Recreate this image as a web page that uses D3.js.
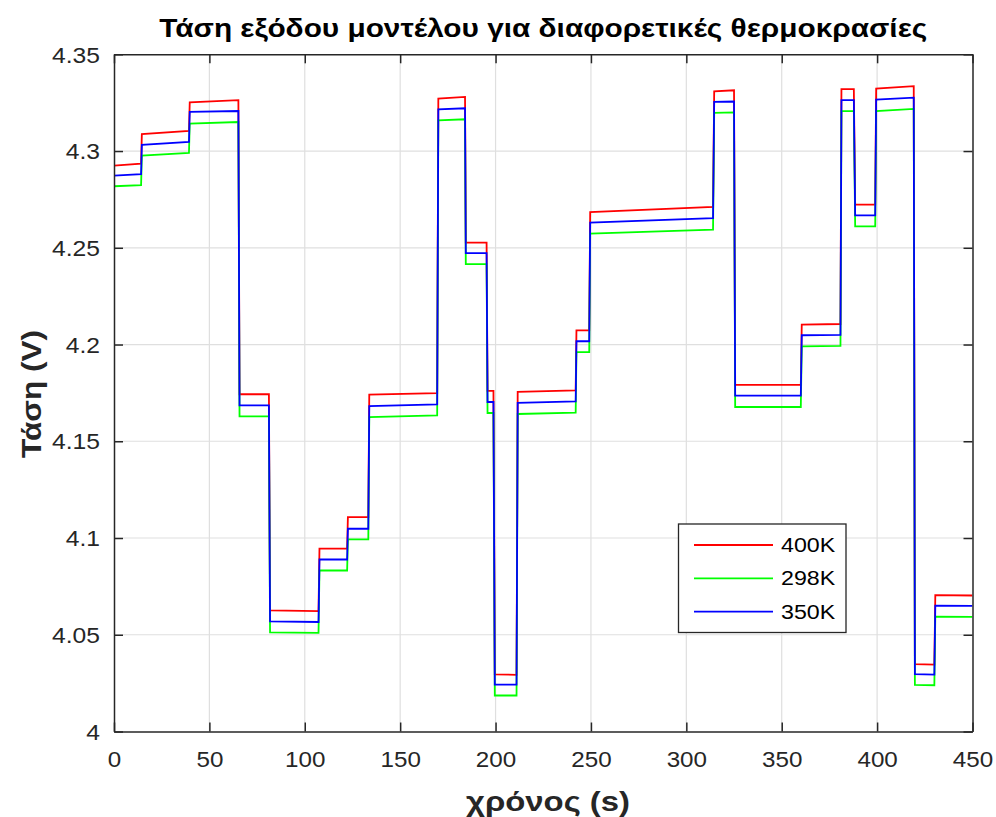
<!DOCTYPE html>
<html>
<head>
<meta charset="utf-8">
<script src="https://cdn.jsdelivr.net/npm/d3@7"></script>
<style>
  html, body { margin: 0; padding: 0; background: #ffffff; }
  svg { display: block; }
  text { font-family: "Liberation Sans", Arial, sans-serif; }
</style>
</head>
<body>
<svg id="chart" width="996" height="817"></svg>
<script>
// ---- Data ----
const segStart = [0, 14.6, 39.7, 65.8, 81.8, 107.7, 122.6, 133.8, 170.0, 184.4, 195.8, 199.6, 211.6, 242.4, 249.6, 314.6, 325.6, 360.5, 381.3, 388.5, 399.5, 419.8, 430.5];
const segEnd   = [14.2, 39.3, 65.2, 81.2, 107.2, 122.2, 133.3, 169.4, 184.0, 195.3, 198.9, 211.0, 242.0, 249.1, 314.0, 325.0, 360.0, 380.8, 387.8, 399.0, 419.2, 430.0, 450];

const v400Start = [4.2925, 4.3087, 4.3252, 4.1743, 4.0626, 4.0945, 4.1108, 4.1741, 4.3271, 4.2527, 4.1760, 4.0295, 4.1755, 4.2073, 4.2685, 4.3309, 4.1791, 4.2103, 4.3320, 4.2723, 4.3323, 4.0348, 4.0705];
const v400End   = [4.2935, 4.3104, 4.3263, 4.1743, 4.0622, 4.0945, 4.1108, 4.1749, 4.3280, 4.2527, 4.1760, 4.0293, 4.1763, 4.2073, 4.2711, 4.3314, 4.1791, 4.2106, 4.3320, 4.2723, 4.3335, 4.0346, 4.0703];

const v298Start = [4.2818, 4.2976, 4.3142, 4.1629, 4.0512, 4.0832, 4.0993, 4.1625, 4.3158, 4.2416, 4.1646, 4.0186, 4.1641, 4.1961, 4.2573, 4.3197, 4.1677, 4.1991, 4.3206, 4.2611, 4.3207, 4.0241, 4.0593];
const v298End   = [4.2824, 4.2990, 4.3150, 4.1629, 4.0510, 4.0832, 4.0993, 4.1634, 4.3164, 4.2416, 4.1646, 4.0186, 4.1648, 4.1961, 4.2594, 4.3200, 4.1677, 4.1993, 4.3206, 4.2611, 4.3218, 4.0239, 4.0592];

const v350Start = [4.2873, 4.3032, 4.3202, 4.1686, 4.0569, 4.0889, 4.1048, 4.1682, 4.3216, 4.2472, 4.1703, 4.0243, 4.1698, 4.2017, 4.2630, 4.3254, 4.1736, 4.2048, 4.3263, 4.2668, 4.3266, 4.0296, 4.0650];
const v350End   = [4.2880, 4.3047, 4.3207, 4.1686, 4.0566, 4.0889, 4.1048, 4.1691, 4.3221, 4.2472, 4.1703, 4.0242, 4.1706, 4.2017, 4.2653, 4.3256, 4.1736, 4.2050, 4.3263, 4.2668, 4.3276, 4.0294, 4.0649];

const seriesNames = ["400K", "298K", "350K"];
const seriesColors = ["#ff0000", "#00ff00", "#0000ff"];
const xTicks = [0, 50, 100, 150, 200, 250, 300, 350, 400, 450];
const yTicks = [4, 4.05, 4.1, 4.15, 4.2, 4.25, 4.3, 4.35];

const titleText = "Τάση εξόδου μοντέλου για διαφορετικές θερμοκρασίες";
const xLabel = "χρόνος (s)";
const yLabel = "Τάση (V)";

function buildPoints(starts, ends) {
  const pts = [];
  for (let i = 0; i < segStart.length; i++) {
    pts.push([segStart[i], starts[i]]);
    pts.push([segEnd[i], ends[i]]);
  }
  return pts;
}
const series = [
  { name: seriesNames[0], color: seriesColors[0], pts: buildPoints(v400Start, v400End) },
  { name: seriesNames[1], color: seriesColors[1], pts: buildPoints(v298Start, v298End) },
  { name: seriesNames[2], color: seriesColors[2], pts: buildPoints(v350Start, v350End) }
];

// widen text horizontally (reference glyphs are wider than Liberation Sans)
function widen(sel, k) {
  sel.each(function () {
    const len = this.getComputedTextLength();
    d3.select(this).attr("textLength", len * k).attr("lengthAdjust", "spacingAndGlyphs");
  });
}

// ---- Layout ----
const L = 114, R = 972.5, T = 54.3, B = 731.5;
const svg = d3.select("#chart");
const x = d3.scaleLinear().domain([0, 450]).range([L, R]);
const y = d3.scaleLinear().domain([4, 4.35]).range([B, T]);
const axisColor = "#262626";

// grid
const g = svg.append("g");
g.selectAll("line.gx").data(xTicks.slice(1, -1)).enter().append("line")
  .attr("x1", d => x(d)).attr("x2", d => x(d)).attr("y1", T).attr("y2", B)
  .attr("stroke", "#dfdfdf").attr("stroke-width", 1.2);
g.selectAll("line.gy").data(yTicks.slice(1, -1)).enter().append("line")
  .attr("x1", L).attr("x2", R).attr("y1", d => y(d)).attr("y2", d => y(d))
  .attr("stroke", "#dfdfdf").attr("stroke-width", 1.2);

// lines
const line = d3.line().x(d => x(d[0])).y(d => y(d[1]));
svg.append("clipPath").attr("id", "clip").append("rect")
  .attr("x", L).attr("y", T).attr("width", R - L).attr("height", B - T);
series.forEach(s => {
  svg.append("path").datum(s.pts)
    .attr("d", line)
    .attr("fill", "none")
    .attr("stroke", s.color)
    .attr("stroke-width", 1.8)
    .attr("stroke-linejoin", "miter")
    .attr("clip-path", "url(#clip)");
});

// axes (MATLAB-like box with inward ticks)
const tickLen = 9;
const axB = svg.append("g").attr("transform", `translate(0,${B})`)
  .call(d3.axisBottom(x).tickValues(xTicks).tickSizeInner(-tickLen).tickSizeOuter(0).tickPadding(20).tickFormat(d3.format("d")));
const axT = svg.append("g").attr("transform", `translate(0,${T})`)
  .call(d3.axisTop(x).tickValues(xTicks).tickSizeInner(-tickLen).tickSizeOuter(0).tickFormat(""));
const axL = svg.append("g").attr("transform", `translate(${L},0)`)
  .call(d3.axisLeft(y).tickValues(yTicks).tickSizeInner(-tickLen).tickSizeOuter(0).tickPadding(14).tickFormat(d => d3.format("")(+d.toFixed(2))));
const axR = svg.append("g").attr("transform", `translate(${R},0)`)
  .call(d3.axisRight(y).tickValues(yTicks).tickSizeInner(-tickLen).tickSizeOuter(0).tickFormat(""));
[axB, axT, axL, axR].forEach(a => {
  a.select(".domain").attr("stroke", axisColor).attr("stroke-width", 1.5);
  a.selectAll(".tick line").attr("stroke", axisColor).attr("stroke-width", 1.5);
  a.selectAll(".tick text").attr("fill", axisColor)
    .style("font-family", "'Liberation Sans', Arial, sans-serif").style("font-size", "22px");
});
axB.selectAll(".tick text").attr("dy", "0.71em");
axL.selectAll(".tick text").attr("dy", "0.35em");
widen(axB.selectAll(".tick text"), 1.1);
widen(axL.selectAll(".tick text"), 1.12);

// title & labels
svg.append("text").attr("x", (L + R) / 2).attr("y", 37)
  .attr("text-anchor", "middle").attr("font-weight", "bold").attr("font-size", "25px")
  .attr("fill", "#000").attr("textLength", 768).attr("lengthAdjust", "spacingAndGlyphs").text(titleText);
svg.append("text").attr("x", 548).attr("y", 811)
  .attr("text-anchor", "middle").attr("font-weight", "bold").attr("font-size", "27px")
  .attr("fill", axisColor).attr("textLength", 164).attr("lengthAdjust", "spacingAndGlyphs").text(xLabel);
svg.append("text").attr("transform", `translate(41,394) rotate(-90)`)
  .attr("text-anchor", "middle").attr("font-weight", "bold").attr("font-size", "27px")
  .attr("fill", axisColor).attr("textLength", 128).attr("lengthAdjust", "spacingAndGlyphs").text(yLabel);

// legend
const lg = svg.append("g");
lg.append("rect").attr("x", 678.5).attr("y", 524).attr("width", 167.5).attr("height", 108.5)
  .attr("fill", "#fff").attr("stroke", axisColor).attr("stroke-width", 1.3);
series.forEach((s, i) => {
  const yy = 545 + i * 33.3;
  lg.append("line").attr("x1", 694).attr("x2", 773).attr("y1", yy).attr("y2", yy)
    .attr("stroke", s.color).attr("stroke-width", 1.8);
  lg.append("text").attr("x", 781).attr("y", yy).attr("dy", "0.35em")
    .attr("font-size", "20px").attr("fill", "#000").text(s.name);
});
widen(lg.selectAll("text"), 1.16);
</script>
</body>
</html>
